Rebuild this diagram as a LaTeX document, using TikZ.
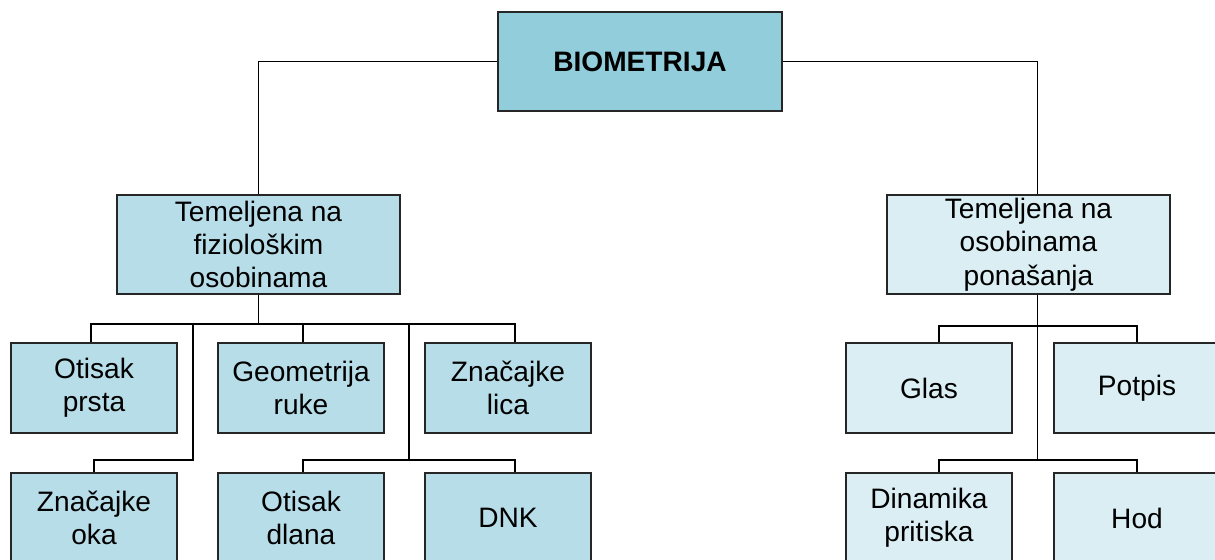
\documentclass[tikz,border=0pt]{standalone}
\usepackage{fontspec}
\setmainfont{Liberation Sans}
\usepackage{tikz}
\usetikzlibrary{positioning,calc}

\definecolor{rootblue}{HTML}{92CDDC}
\definecolor{physblue}{HTML}{B7DDE8}
\definecolor{behblue}{HTML}{DAEEF3}

\begin{document}
\begin{tikzpicture}[x=0.02cm, y=-0.02cm,
        box/.style={draw=black!85, line width=0.8pt, inner sep=0pt, align=center,
            font=\fontsize{16}{19}\selectfont},
        root/.style={box, fill=rootblue, minimum width=5.68cm, minimum height=1.98cm,
            font=\fontsize{16}{19}\selectfont\bfseries},
        midbox/.style={box, minimum width=5.66cm, minimum height=1.98cm},
        leaf/.style={box, minimum width=3.32cm, minimum height=1.8cm},
        conn/.style={draw=black, line width=0.9pt}]
        \useasboundingbox (0,0) rectangle (1215,560);
        \clip (0,0) rectangle (1215,560);

        %%% Top
        \node[root] (root) at (640,61.5) {BIOMETRIJA};

        % Second level
        \node[midbox, fill=physblue] (phys) at (258.5,244.5) {Temeljena na\\fiziološkim\\osobinama};
        \node[midbox, fill=behblue] (beh) at (1028.5,244.5) {Temeljena na\\osobinama\\ponašanja};

        %%% Left branch
        \node[leaf, fill=physblue] (prsta) at (94,388) {Otisak\\prsta};
        \node[leaf, fill=physblue] (ruke) at (301,388) {Geometrija\\ruke};
        \node[leaf, fill=physblue] (lica) at (508,388) {Značajke\\lica};
        \node[leaf, fill=physblue] (oka) at (94,518) {Značajke\\oka};
        \node[leaf, fill=physblue] (dlana) at (301,518) {Otisak\\dlana};
        \node[leaf, fill=physblue] (dnk) at (508,518) {DNK};

        %%% Right branch
        \node[leaf, fill=behblue] (glas) at (929,388) {Glas};
        \node[leaf, fill=behblue] (potpis) at (1137,388) {Potpis};
        \node[leaf, fill=behblue] (dinamika) at (929,518) {Dinamika\\pritiska};
        \node[leaf, fill=behblue] (hod) at (1137,518) {Hod};

        % Bus points
        \coordinate (pbus) at (258.5,324);
        \coordinate (okabus) at (193,460);
        \coordinate (dnkbus) at (409,460);
        \coordinate (bbus1) at (1037.5,326);
        \coordinate (bbus2) at (1037.5,460);

        %%% Connectors
        \draw[conn] (root.west) -| (phys.north);
        \draw[conn] (root.east) -| ($(beh.north)+(9,0)$);

        % Left tree
        \draw[conn] (phys.south) -- (pbus);
        \draw[conn] ($(prsta.north)+(-3,0)$) |- (pbus) -| ($(lica.north)+(7,0)$);
        \draw[conn] ($(ruke.north)+(2,0)$) -- ($(ruke.north |- pbus)+(2,0)$);
        \draw[conn] (okabus |- pbus) -- (okabus) -| (oka.north);
        \draw[conn] (dnkbus |- pbus) -- (dnkbus);
        \draw[conn] ($(dlana.north)+(2,0)$) |- (dnkbus) -| ($(dnk.north)+(7,0)$);

        % Right tree
        \draw[conn] (bbus1 |- beh.south) -- (bbus2);
        \draw[conn] ($(glas.north)+(10,0)$) |- (bbus1) -| (potpis.north);
        \draw[conn] ($(dinamika.north)+(10,0)$) |- (bbus2) -| (hod.north);
\end{tikzpicture}
\end{document}
